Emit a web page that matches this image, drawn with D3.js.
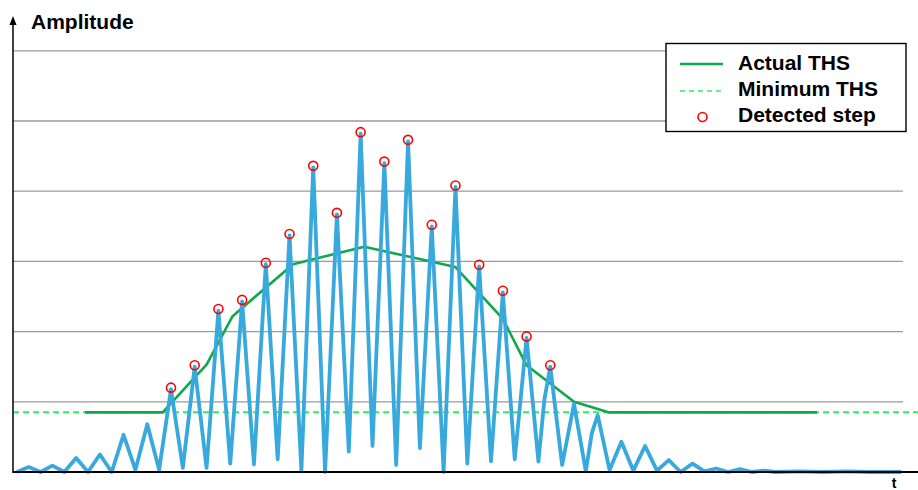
<!DOCTYPE html>
<html>
<head>
<meta charset="utf-8">
<script src="https://cdn.jsdelivr.net/npm/d3@7"></script>
<style>
  html, body { margin: 0; padding: 0; background: #fff; }
  svg { display: block; }
  text { font-family: "Liberation Sans", Arial, sans-serif; font-weight: bold; fill: #000; }
</style>
</head>
<body>
<svg id="chart" width="918" height="490"></svg>
<script>
// ---- data (time in sample units, amplitude in grid units) ----
const sigT = [0,1,2,3,4,5,6,7,8,9,10,11,12,13,14,15,16,17,18,19,20,21,22,23,24,25,26,27,28,29,30,
  31,32,33,34,35,36,37,38,39,40,41,42,43,44,44.5,45,46,47,48,48.5,49,50,51,52,53,54,55,56,57,58,59,60,
  61,62,63,64,66,68,70,72,74.6];
const sigV = [0.0,0.07,0.0,0.09,0.0,0.20,0.0,0.25,0.0,0.53,0.03,0.68,0.03,1.18,0.06,1.50,0.06,2.30,0.12,2.43,0.11,
  2.96,0.18,3.37,0.02,4.34,0.0,3.67,0.29,4.82,0.37,4.40,0.10,4.71,0.34,3.50,0.0,4.06,0.12,2.93,0.15,
  2.56,0.18,1.91,0.15,1.03,1.50,0.10,0.97,0.01,0.55,0.81,0.03,0.43,0.02,0.37,0.02,0.17,0.0,0.12,0.01,
  0.05,0.0,0.04,0.0,0.02,0.0,0.01,0.0,0.01,0.0,0.0];

const thsT = [5.75,12.3,16.0,18.2,23.3,29.3,37.0,41.0,43.0,45.0,47.0,49.9,67.5];
const thsV = [0.85,0.85,1.53,2.22,2.96,3.21,2.92,2.18,1.52,1.26,1.00,0.85,0.85];

const minThs = 0.85;
const detectedT = [13,15,17,19,21,23,25,27,29,31,33,35,37,39,41,43,45];
const gridVals = [1,2,3,4,5,6];
const legendLabels = ["Actual THS","Minimum THS","Detected step"];
const yLabel = "Amplitude";
const xLabel = "t";

// ---- layout ----
const svg = d3.select("#chart");
const axisX = 13, baseY = 472, gridRight = 903, lineRight = 918;
const x = d3.scaleLinear().domain([0, 75]).range([16.9, 16.9 + 75 * 11.853]);
const y = d3.scaleLinear().domain([0, 6]).range([baseY, 50.8]);

const blue = "#38a9dc", dark = "#0fa84a", light = "#2cee60", red = "#ff0000";

// gridlines
svg.append("g").selectAll("line").data(gridVals).join("line")
  .attr("x1", axisX).attr("x2", gridRight)
  .attr("y1", d => y(d)).attr("y2", d => y(d))
  .attr("stroke", "#9a9a9a").attr("stroke-width", 1.3);

// minimum THS (dashed)
svg.append("line")
  .attr("x1", axisX).attr("x2", lineRight)
  .attr("y1", y(minThs)).attr("y2", y(minThs))
  .attr("stroke", light).attr("stroke-width", 2).attr("stroke-dasharray", "6,4");

// actual THS
const line = d3.line().x(d => x(d[0])).y(d => y(d[1]));
svg.append("path")
  .datum(thsT.map((t, i) => [t, thsV[i]]))
  .attr("d", line).attr("fill", "none")
  .attr("stroke", dark).attr("stroke-width", 2.6).attr("stroke-linejoin", "round");

// signal
svg.append("path")
  .datum(sigT.map((t, i) => [t, sigV[i]]))
  .attr("d", line).attr("fill", "none")
  .attr("stroke", blue).attr("stroke-width", 3.8).attr("stroke-linejoin", "round");

// detected steps
svg.append("g").selectAll("circle").data(detectedT).join("circle")
  .attr("cx", d => x(d))
  .attr("cy", d => y(sigV[sigT.indexOf(d)]) - 1.5)
  .attr("r", 4.5)
  .attr("fill", "none").attr("stroke", red).attr("stroke-width", 1.6);

// baseline (x axis)
svg.append("line")
  .attr("x1", axisX).attr("x2", lineRight)
  .attr("y1", baseY).attr("y2", baseY)
  .attr("stroke", "#000").attr("stroke-width", 2);

// y axis with arrow
svg.append("line")
  .attr("x1", axisX).attr("x2", axisX)
  .attr("y1", baseY + 1).attr("y2", 22)
  .attr("stroke", "#000").attr("stroke-width", 1.5);
svg.append("path")
  .attr("d", `M${axisX},16 L${axisX - 3.5},25 L${axisX + 3.5},25 Z`)
  .attr("fill", "#000");

svg.append("text").attr("x", 31).attr("y", 28.5)
  .style("font-size", "21px").text(yLabel);
svg.append("text").attr("x", 894).attr("y", 488).attr("text-anchor", "middle")
  .style("font-size", "14px").text(xLabel);

// legend
const lg = svg.append("g");
lg.append("rect").attr("x", 666).attr("y", 43.5).attr("width", 240).attr("height", 88)
  .attr("fill", "#fff").attr("stroke", "#000").attr("stroke-width", 1.4);
const rows = [69.5, 95.5, 121.5];
lg.append("line").attr("x1", 680).attr("x2", 723).attr("y1", 64).attr("y2", 64)
  .attr("stroke", dark).attr("stroke-width", 2.6);
lg.append("line").attr("x1", 680).attr("x2", 723).attr("y1", 91).attr("y2", 91)
  .attr("stroke", light).attr("stroke-width", 1.6).attr("stroke-dasharray", "5,4");
lg.append("circle").attr("cx", 702.5).attr("cy", 117).attr("r", 4.5)
  .attr("fill", "none").attr("stroke", red).attr("stroke-width", 1.6);
lg.selectAll("text.lab").data(legendLabels).join("text").attr("class", "lab")
  .attr("x", 738).attr("y", (d, i) => rows[i])
  .style("font-size", "21px").text(d => d);
</script>
</body>
</html>
